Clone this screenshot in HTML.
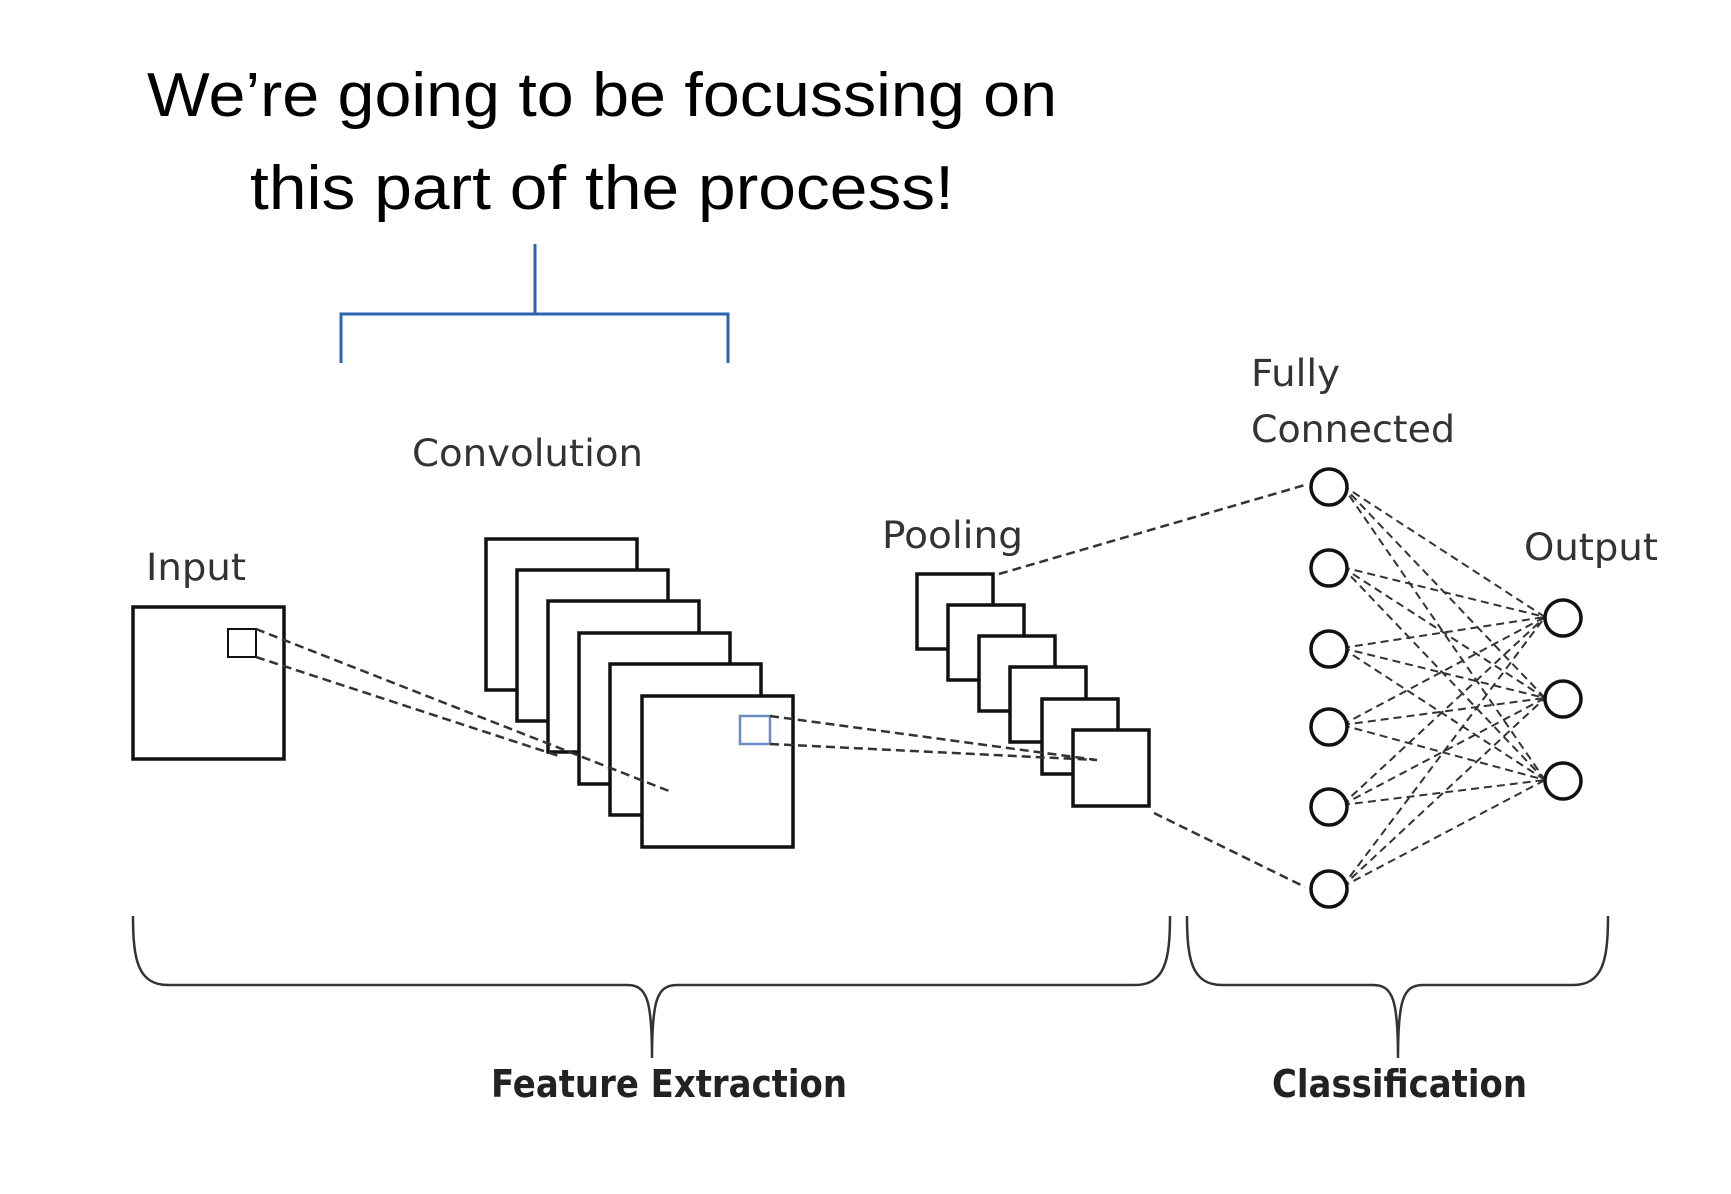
<!DOCTYPE html>
<html><head><meta charset="utf-8"><style>
html,body{margin:0;padding:0;background:#fff;width:1731px;height:1194px;overflow:hidden}
svg{display:block}
</style></head><body>
<svg width="1731" height="1194" viewBox="0 0 1731 1194" xmlns="http://www.w3.org/2000/svg">
<g font-family="Liberation Sans, Arial, sans-serif" fill="#000">
<text x="602" y="116" font-size="62" text-anchor="middle" textLength="910" lengthAdjust="spacingAndGlyphs">We’re going to be focussing on</text>
<text x="602" y="209" font-size="62" text-anchor="middle" textLength="704" lengthAdjust="spacingAndGlyphs">this part of the process!</text>
</g>
<path d="M535 244 V314 M341 363 V314 H728 V363" stroke="#2e63b0" stroke-width="3" fill="none"/>
<g font-family="DejaVu Sans, Liberation Sans, sans-serif" fill="#333" font-size="37">
<text x="146" y="580" textLength="100" lengthAdjust="spacingAndGlyphs">Input</text>
<text x="412" y="466" textLength="231" lengthAdjust="spacingAndGlyphs">Convolution</text>
<text x="882" y="548" textLength="141" lengthAdjust="spacingAndGlyphs">Pooling</text>
<text x="1251" y="386" textLength="89" lengthAdjust="spacingAndGlyphs">Fully</text>
<text x="1251" y="442" textLength="204" lengthAdjust="spacingAndGlyphs">Connected</text>
<text x="1524" y="560" textLength="134" lengthAdjust="spacingAndGlyphs">Output</text>
</g>
<g font-family="DejaVu Sans, Liberation Sans, sans-serif" fill="#222" font-size="38" font-weight="bold">
<text x="491" y="1097" textLength="356" lengthAdjust="spacingAndGlyphs">Feature Extraction</text>
<text x="1272" y="1097" textLength="255" lengthAdjust="spacingAndGlyphs">Classification</text>
</g>
<g stroke="#111" stroke-width="3.5" fill="#fff">
<rect x="133" y="607" width="151" height="152"/>
<rect x="486" y="539" width="151" height="151"/>
<rect x="517" y="570" width="151" height="151"/>
<rect x="548" y="601" width="151" height="151"/>
<rect x="579" y="633" width="151" height="151"/>
<rect x="610" y="664" width="151" height="151"/>
<rect x="642" y="696" width="151" height="151"/>
<rect x="917" y="574" width="76" height="75"/>
<rect x="948" y="605" width="76" height="75"/>
<rect x="979" y="636" width="76" height="75"/>
<rect x="1010" y="667" width="76" height="75"/>
<rect x="1042" y="699" width="76" height="75"/>
<rect x="1073" y="730" width="76" height="76"/>
</g>
<rect x="228" y="629" width="28" height="28" fill="none" stroke="#111" stroke-width="2"/>
<rect x="740" y="716" width="30" height="28" fill="none" stroke="#6a8cc0" stroke-width="2.5"/>
<g stroke="#333" stroke-width="2.5" stroke-dasharray="9 5" fill="none">
<path d="M256 629 L669 791 M256 657 L562 757"/>
<path d="M770 716 L1097 760 M770 744 L1097 760"/>
<path d="M999 574 L1305 485 M1154 813 L1305 887"/>
</g>
<g stroke="#333" stroke-width="2" stroke-dasharray="8 5" fill="none">
<path d="M1342 485 L1545 617 M1342 485 L1545 698 M1342 485 L1545 780
M1342 567 L1545 617 M1342 567 L1545 698 M1342 567 L1545 780
M1342 648 L1545 617 M1342 648 L1545 698 M1342 648 L1545 780
M1342 725 L1545 617 M1342 725 L1545 698 M1342 725 L1545 780
M1342 805 L1545 617 M1342 805 L1545 698 M1342 805 L1545 780
M1342 887 L1545 617 M1342 887 L1545 698 M1342 887 L1545 780"/>
</g>
<g stroke="#111" stroke-width="3.5" fill="#fff">
<circle cx="1329" cy="487" r="18"/>
<circle cx="1329" cy="568" r="18"/>
<circle cx="1329" cy="649" r="18"/>
<circle cx="1329" cy="727" r="18"/>
<circle cx="1329" cy="807" r="18"/>
<circle cx="1329" cy="889" r="18"/>
<circle cx="1563" cy="618" r="18"/>
<circle cx="1563" cy="699" r="18"/>
<circle cx="1563" cy="781" r="18"/>
</g>
<g stroke="#333" stroke-width="2.5" fill="none">
<path d="M133 916 C133 960 138 985 168 985 L627 985 C647 985 652 1000 652 1058 C652 1000 657 985 677 985 L1135 985 C1165 985 1170 960 1170 916"/>
<path d="M1187 916 C1187 960 1192 985 1222 985 L1373 985 C1393 985 1398 1000 1398 1058 C1398 1000 1403 985 1423 985 L1573 985 C1603 985 1608 960 1608 916"/>
</g>
</svg>
</body></html>
